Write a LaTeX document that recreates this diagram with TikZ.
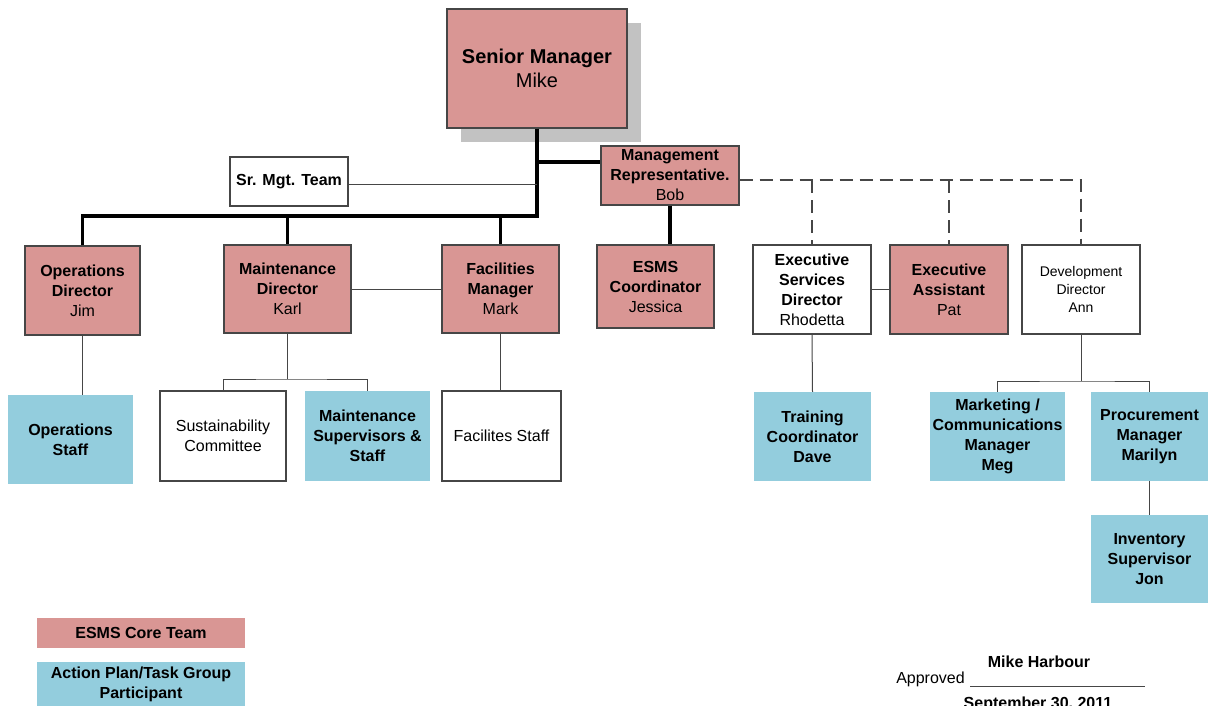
\documentclass[tikz,border=0pt]{standalone}
\usepackage{fontspec}
\setmainfont{Liberation Sans}
\usetikzlibrary{shadows}
\definecolor{corepink}{RGB}{217,150,148}
\definecolor{taskblue}{RGB}{147,205,221}
\definecolor{edgegray}{RGB}{70,70,70}

\begin{document}
\begin{tikzpicture}[x = 1pt, y = -1pt,
        box/.style = {rectangle, inner sep = 0pt, align = center, font = \fontsize{16}{20}\selectfont},
        core/.style = {box, fill = corepink, draw = edgegray, line width = 1.2pt},
        task/.style = {box, fill = taskblue},
        plain/.style = {box, fill = white, draw = edgegray, line width = 1.2pt},
        heavy/.style = {line width = 3.5pt, black},
        light/.style = {line width = 1pt, edgegray},
        dashlink/.style = {line width = 1.1pt, edgegray, dash pattern = on 13pt off 7pt}]
        \path [use as bounding box, fill = white] (0, 0) rectangle (1208, 706);

        \node [core, minimum width = 180, minimum height = 119, font = \fontsize{20}{24}\selectfont,
            drop shadow = {shadow xshift = 14pt, shadow yshift = -14pt, fill = black!24, opacity = 1}]
            (senior) at (537, 68.5) {\textbf{Senior Manager}\\Mike};
        \node [plain, minimum width = 118, minimum height = 49] (srteam) at (289, 181.5) {\textbf{Sr. Mgt. Team}};
        \node [core, minimum width = 138, minimum height = 59] (mrep) at (670, 175.5) {\textbf{Management}\\\textbf{Representative.}\\Bob};

        \node [core, minimum width = 115, minimum height = 89] (opsdir) at (82.5, 290.5) {\textbf{Operations}\\\textbf{Director}\\Jim};
        \node [core, minimum width = 127, minimum height = 88] (maintdir) at (287.5, 289) {\textbf{Maintenance}\\\textbf{Director}\\Karl};
        \node [core, minimum width = 117, minimum height = 88] (facmgr) at (500.5, 289) {\textbf{Facilities}\\\textbf{Manager}\\Mark};
        \node [core, minimum width = 117, minimum height = 83] (esmscoord) at (655.5, 286.5) {\textbf{ESMS}\\\textbf{Coordinator}\\Jessica};
        \node [plain, minimum width = 118, minimum height = 89] (execsvc) at (812, 289.5) {\textbf{Executive}\\\textbf{Services}\\\textbf{Director}\\Rhodetta};
        \node [core, minimum width = 118, minimum height = 89] (execasst) at (949, 289.5) {\textbf{Executive}\\\textbf{Assistant}\\Pat};
        \node [plain, minimum width = 118, minimum height = 89, font = \fontsize{14}{18}\selectfont] (devdir) at (1081, 289.5) {Development\\Director\\Ann};

        \node [task, minimum width = 125, minimum height = 89] (opsstaff) at (70.5, 439.5) {\textbf{Operations}\\\textbf{Staff}};
        \node [plain, minimum width = 126, minimum height = 90] (sustain) at (223, 436) {Sustainability\\Committee};
        \node [task, minimum width = 125, minimum height = 90] (maintsup) at (367.5, 436) {\textbf{Maintenance}\\\textbf{Supervisors \&}\\\textbf{Staff}};
        \node [plain, minimum width = 119, minimum height = 90] (facstaff) at (501.5, 436) {Facilites Staff};
        \node [task, minimum width = 117, minimum height = 89] (training) at (812.5, 436.5) {\textbf{Training}\\\textbf{Coordinator}\\\textbf{Dave}};
        \node [task, minimum width = 135, minimum height = 89] (marketing) at (997.5, 436.5) {\textbf{Marketing /}\\\textbf{Communications}\\\textbf{Manager}\\\textbf{Meg}};
        \node [task, minimum width = 117, minimum height = 89] (procure) at (1149.5, 436.5) {\textbf{Procurement}\\\textbf{Manager}\\\textbf{Marilyn}};
        \node [task, minimum width = 117, minimum height = 88] (inventory) at (1149.5, 559) {\textbf{Inventory}\\\textbf{Supervisor}\\\textbf{Jon}};

        \node [box, fill = corepink, minimum width = 208, minimum height = 30] (legcore) at (141, 633) {\textbf{ESMS Core Team}};
        \node [task, minimum width = 208, minimum height = 44] (legtask) at (141, 684) {\textbf{Action Plan/Task Group}\\\textbf{Participant}};

        \node [box] (approved) at (930.5, 679) {Approved};
        \node [box] (signer) at (1039, 662) {\textbf{Mike Harbour}};
        \node [box] (signdate) at (1038, 704.5) {\textbf{September 30, 2011}};
        \coordinate (signstart) at (970, 686);
        \coordinate (signend) at (1145, 686);
        \draw [light] (signstart) -- (signend);

        \coordinate (trunk) at (537, 216);
        \coordinate (repjoin) at (537, 162);
        \draw [heavy] (senior.south) -- (trunk) -| (opsdir.north);
        \draw [heavy] (trunk -| maintdir.north) -- (maintdir.north);
        \draw [heavy] (trunk -| facmgr.north) -- (facmgr.north);
        \draw [heavy] (repjoin) -- (repjoin -| mrep.west);
        \draw [heavy] (mrep.south) -- (mrep.south |- esmscoord.north);
        \draw [light] ([yshift = -3.5pt]srteam.east) -- ([yshift = -3.5pt]srteam.east -| senior.south);

        \draw [dashlink] ([yshift = -4.5pt]mrep.east) -| (devdir.north);
        \draw [dashlink] ([yshift = -4.5pt]mrep.east -| execsvc.north) -- (execsvc.north);
        \draw [dashlink] ([yshift = -4.5pt]mrep.east -| execasst.north) -- (execasst.north);

        \draw [light] (maintdir.east) -- (facmgr.west);
        \draw [light] (execsvc.east) -- (execasst.west);
        \draw [light] (opsdir.south) -- (opsdir.south |- opsstaff.north);
        \coordinate (maintfork) at (287.5, 379);
        \draw [light] (maintdir.south) -- (maintfork);
        \draw [light] (sustain.north) |- (maintfork) -| (maintsup.north);
        \draw [light] (facmgr.south) -- (facmgr.south |- facstaff.north);
        \draw [light] (execsvc.south) -- (training.north);
        \coordinate (devfork) at (1081, 381);
        \draw [light] (devdir.south) -- (devfork);
        \draw [light] (marketing.north) |- (devfork) -| (procure.north);
        \draw [light] (procure.south) -- (inventory.north);
    \end{tikzpicture}
\end{document}
